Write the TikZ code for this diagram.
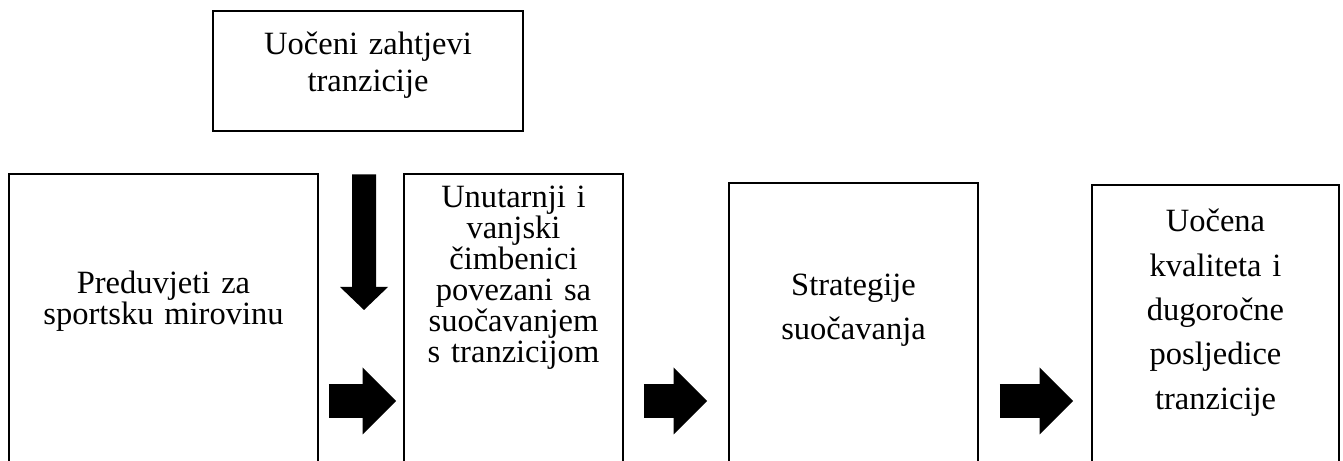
\documentclass[tikz,border=0pt]{standalone}
\usepackage{fontspec}
\setmainfont{Liberation Serif}
\usetikzlibrary{arrows.meta}

\begin{document}
\begin{tikzpicture}[
        box/.style={rectangle, draw, line width=1.1pt, anchor=north, align=center, inner xsep=0.1cm, text depth=8cm, font=\fontsize{18.5}{17.6}\selectfont},
        bigarrow/.style={draw, line width=0.68cm, -{Triangle[length=0.67cm, width=1.34cm, line width=0pt]}},
        downarrow/.style={draw, line width=0.48cm, -{Triangle[length=0.46cm, width=0.96cm, line width=0pt]}}
    ]
        \useasboundingbox (0,0) rectangle (26.86,9.22);
        \clip (0,0) rectangle (26.86,9.22);

        \node [box, text width=6.0cm, inner ysep=0.42cm, text depth=1.115cm, font=\fontsize{18.5}{21}\selectfont] (demand) at (7.36,9.02) {Uočeni zahtjevi\\tranzicije};
        \node [box, text width=5.98cm, inner ysep=1.94cm] (pre) at (3.27,5.76) {Preduvjeti za\\sportsku mirovinu};
        \node [box, text width=4.18cm, inner ysep=0.24cm] (factors) at (10.27,5.76) {Unutarnji i\\vanjski\\čimbenici\\povezani sa\\suočavanjem\\s tranzicijom};
        \node [box, text width=4.78cm, inner ysep=1.82cm, font=\fontsize{18.5}{25.3}\selectfont] (strategies) at (17.07,5.58) {Strategije\\suočavanja};
        \node [box, text width=4.74cm, inner ysep=0.48cm, font=\fontsize{18.5}{25.3}\selectfont] (outcomes) at (24.31,5.54) {Uočena\\kvaliteta i\\dugoročne\\posljedice\\tranzicije};

        \coordinate (downtip) at (7.28,3.02);
        \coordinate (row) at (0,1.2);

        \draw [downarrow, shorten <=0.84cm] ([xshift=-0.08cm]demand.south) -- (downtip);
        \draw [bigarrow, shorten <=0.2cm, shorten >=0.14cm] (pre.east |- row) -- (factors.west |- row);
        \draw [bigarrow, shorten <=0.4cm, shorten >=0.42cm] (factors.east |- row) -- (strategies.west |- row);
        \draw [bigarrow, shorten <=0.42cm, shorten >=0.36cm] (strategies.east |- row) -- (outcomes.west |- row);
    \end{tikzpicture}
\end{document}
